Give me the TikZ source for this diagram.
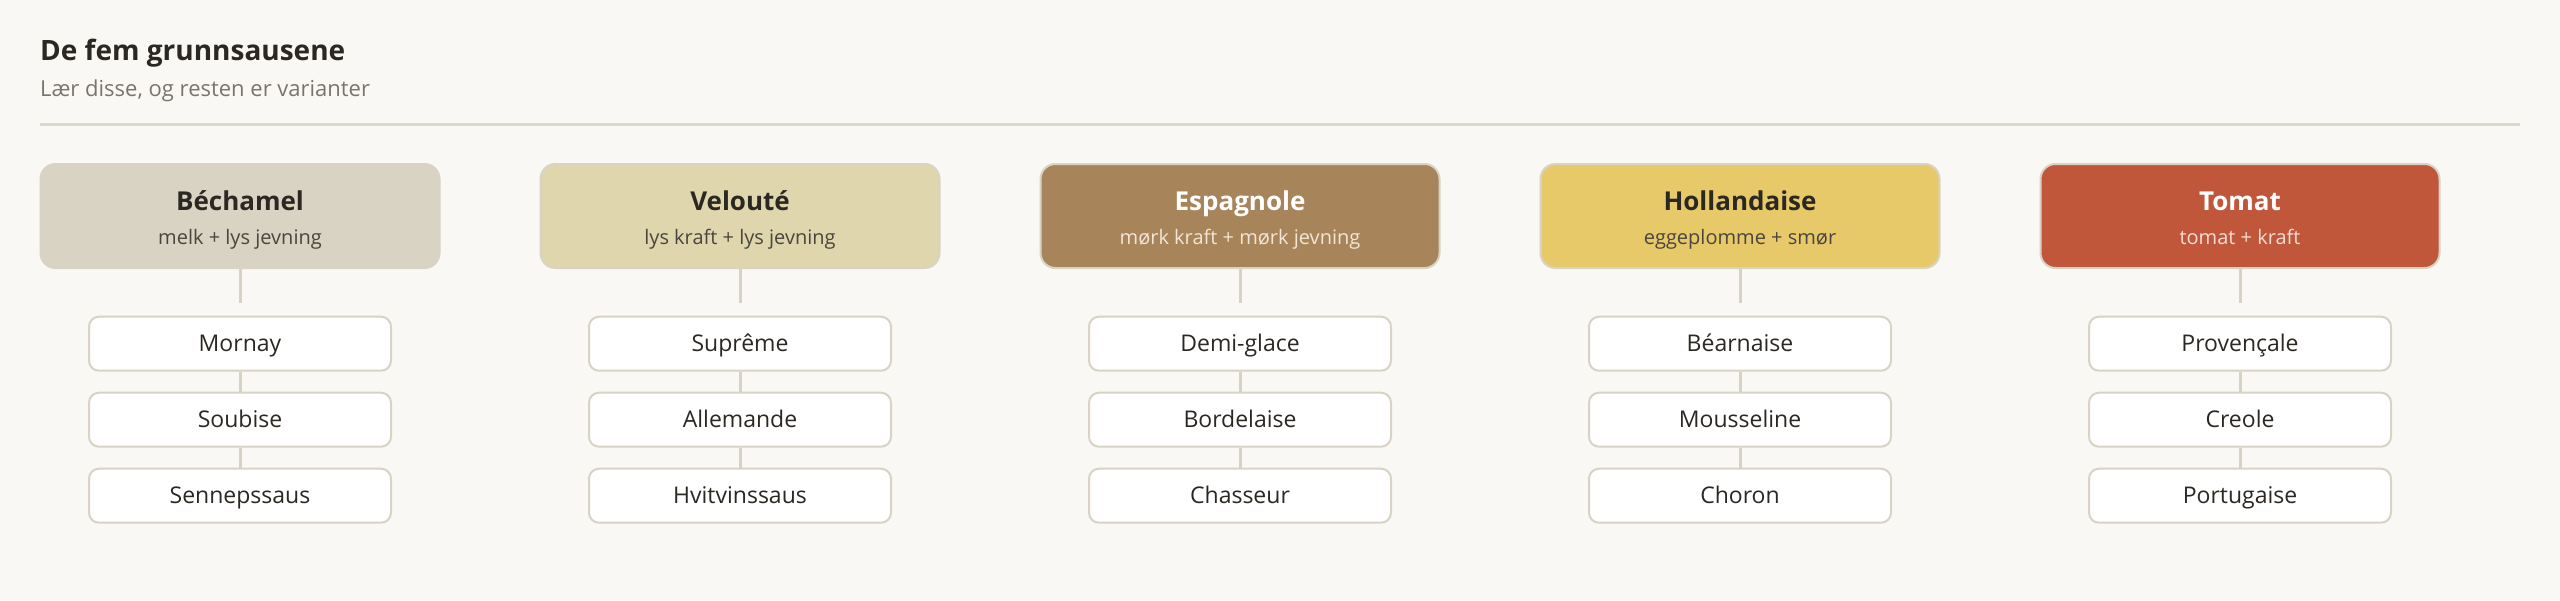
\documentclass[tikz,border=0pt]{standalone}
\usepackage{fontspec}
\setmainfont{Open Sans}
\definecolor{bg}{HTML}{F9F8F4}
\definecolor{rulec}{HTML}{DCD7CB}
\definecolor{linec}{HTML}{D8D2C4}
\definecolor{brd}{HTML}{D9D3C5}
\definecolor{bech}{HTML}{D9D3C3}
\definecolor{vel}{HTML}{DFD6AD}
\definecolor{esp}{HTML}{A8845A}
\definecolor{hol}{HTML}{E8C96A}
\definecolor{tom}{HTML}{C0573B}
\definecolor{dark}{HTML}{2B2722}
\definecolor{subdark}{HTML}{4A453E}
\definecolor{gray}{HTML}{7A756C}
\definecolor{espsub}{HTML}{F1E6D6}
\definecolor{tomsub}{HTML}{F5DDD3}
\tikzset{
  parentbox/.style={draw=brd, line width=2pt, rounded corners=15pt, minimum width=399pt, minimum height=104pt, inner sep=0pt},
  childbox/.style={draw=brd, line width=2pt, fill=white, rounded corners=10pt, minimum width=302pt, minimum height=54pt, inner sep=0pt,
     font=\fontsize{23}{28}\selectfont, text=dark, text height=16.4pt, text depth=0pt},
  ptitle/.style={anchor=base, inner sep=0pt, font=\fontsize{26}{30}\selectfont\bfseries},
  psub/.style={anchor=base, inner sep=0pt, font=\fontsize{20}{24}\selectfont},
  conn/.style={draw=linec, line width=3pt},
}
\begin{document}
\begin{tikzpicture}[x=1pt,y=-1pt]
\fill[bg] (0,0) rectangle (2560,600);
\useasboundingbox (0,0) rectangle (2560,600);
\node[anchor=base west, inner sep=0pt, text=dark, font=\fontsize{28}{34}\selectfont\bfseries] (title) at (40,60.7) {De fem grunnsausene};
\node[anchor=base west, inner sep=0pt, text=gray, font=\fontsize{22}{28}\selectfont] (subtitle) at (40,96.7) {Lær disse, og resten er varianter};
\coordinate (rl) at (40,124);
\coordinate (rr) at (2520,124);
\draw[rulec, line width=3pt] (rl) -- (rr);
% columns
\foreach \i/\cx/\fillc/\tc/\sc/\name/\sub/\ca/\cb/\cc in {
  1/240/bech/dark/subdark/Béchamel/melk + lys jevning/Mornay/Soubise/Sennepssaus,
  2/740/vel/dark/subdark/Velouté/lys kraft + lys jevning/Suprême/Allemande/Hvitvinssaus,
  3/1240/esp/white/espsub/Espagnole/mørk kraft + mørk jevning/Demi-glace/Bordelaise/Chasseur,
  4/1740/hol/dark/subdark/Hollandaise/eggeplomme + smør/Béarnaise/Mousseline/Choron,
  5/2240/tom/white/tomsub/Tomat/tomat + kraft/Provençale/Creole/Portugaise}{
  \node[parentbox, fill=\fillc] (p\i) at (\cx,216) {};
  \node[ptitle, text=\tc] (p\i t) at (\cx,210) {\name};
  \node[psub, text=\sc] (p\i s) at (\cx,244.3) {\sub};
  \node[childbox] (c\i a) at (\cx,343.7) {\ca};
  \node[childbox] (c\i b) at (\cx,419.7) {\cb};
  \node[childbox] (c\i c) at (\cx,495.7) {\cc};
  \coordinate (e\i) at (\cx,303.3);
  \draw[conn] (p\i.south) -- (e\i);
  \draw[conn] (c\i a.south) -- (c\i b.north);
  \draw[conn] (c\i b.south) -- (c\i c.north);
}
\end{tikzpicture}
\end{document}
